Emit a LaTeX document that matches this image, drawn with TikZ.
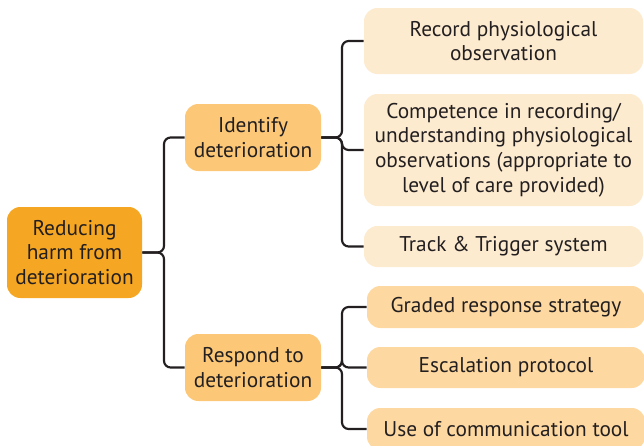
\documentclass[tikz,border=0pt]{standalone}
\usepackage{fontspec}
\setmainfont{PT Sans}
\definecolor{rootfill}{HTML}{F5A623}
\definecolor{midfill}{HTML}{FCC877}
\definecolor{leafpale}{HTML}{FDEBD0}
\definecolor{leafwarm}{HTML}{FDD8A0}
\definecolor{ink}{HTML}{231F20}
\tikzset{
  box/.style={rounded corners=10pt, draw=none, align=center, text=ink,
    inner sep=0pt, font=\fontsize{16}{18.4}\selectfont},
  rootbox/.style={box, fill=rootfill},
  midbox/.style={box, fill=midfill},
  palebox/.style={box, fill=leafpale},
  warmbox/.style={box, fill=leafwarm},
  conn/.style={draw=ink, line width=1.6pt, rounded corners=5pt}
}
\begin{document}
\begin{tikzpicture}[x=0.75pt, y=-0.75pt]
\useasboundingbox (0,0) rectangle (644,446);
\clip (0,0) rectangle (644,446);

% root and second level
\node[rootbox, minimum width=101.25pt, minimum height=68.25pt] (root) at (74.5,252.5)
  {Reducing\\harm from\\deterioration};
\node[midbox, minimum width=102pt, minimum height=50.25pt] (ident) at (253,137.5)
  {Identify\\deterioration};
\node[midbox, minimum width=102pt, minimum height=50.25pt] (resp) at (253,367.5)
  {Respond to\\deterioration};

% leaves of "Identify"
\node[palebox, minimum width=209.25pt, minimum height=49.5pt] (record) at (503.5,41)
  {Record physiological\\observation};
\node[palebox, minimum width=209.25pt, minimum height=84pt] (compet) at (503.5,150)
  {Competence in recording/\\understanding physiological\\observations (appropriate to\\level of care provided)};
\node[palebox, minimum width=209.25pt, minimum height=30.75pt] (track) at (503.5,246.5)
  {Track \& Trigger system};

% leaves of "Respond"
\node[warmbox, minimum width=208.5pt, minimum height=31.5pt] (graded) at (506,307)
  {Graded response strategy};
\node[warmbox, minimum width=208.5pt, minimum height=30.75pt] (escal) at (506,367.5)
  {Escalation protocol};
\node[warmbox, minimum width=208.5pt, minimum height=31.5pt] (usecom) at (506,429)
  {Use of communication tool};

% junction columns
\coordinate (j0) at (164,0);
\coordinate (j1) at (342,0);

% brace connectors
\foreach \child in {ident,resp}
  \draw[conn] (root.east) -- (root.east -| j0) -- (j0 |- \child.west) -- (\child.west);
\foreach \child in {record,compet,track}
  \draw[conn] (ident.east) -- (ident.east -| j1) -- (j1 |- \child.west) -- (\child.west);
\foreach \child in {graded,escal,usecom}
  \draw[conn] (resp.east) -- (resp.east -| j1) -- (j1 |- \child.west) -- (\child.west);
\end{tikzpicture}
\end{document}
